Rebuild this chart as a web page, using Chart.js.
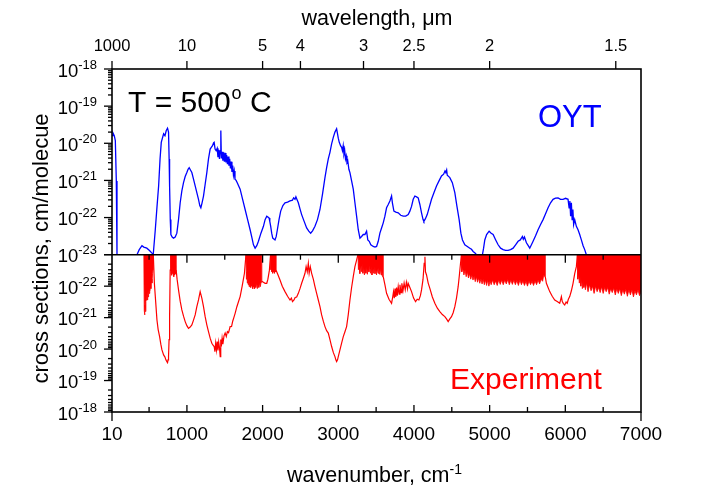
<!DOCTYPE html>
<html>
<head>
<meta charset="utf-8">
<script src="https://cdn.jsdelivr.net/npm/chart.js@4/dist/chart.umd.min.js"></script>
<style>
html,body{margin:0;padding:0;background:#fff;}
#wrap{width:706px;height:494px;position:relative;}
</style>
</head>
<body>
<div id="wrap"><canvas id="c" width="706" height="494"></canvas></div>
<script>
// ---------------- DATA ----------------
const wavenumberTicks = [10, 1000, 2000, 3000, 4000, 5000, 6000, 7000];
const wavenumberMinorTicks = [500, 1500, 2500, 3500, 4500, 5500, 6500];
const wavelengthTicks = [1000, 10, 5, 4, 3, 2.5, 2, 1.5];   // micrometres
const yDecades = [1e-23, 1e-22, 1e-21, 1e-20, 1e-19, 1e-18];

// OYT calculation (top panel) : [wavenumber cm-1, cross section cm/molecule]
const oytPoints = [
 [10,1.6e-20],[23,1.9e-20],[40,1.6e-20],[54,1.18e-20],[67,9.7e-22],[76,1e-23],[77,null],
 [340,1e-23],[370,1.37e-23],[406,1.75e-23],[430,1.6e-23],[470,1.5e-23],[505,1.3e-23],[538,1.1e-23],[555,1.02e-23],
 [582,4.7e-23],[605,2.0e-22],[626,7.1e-22],[645,3.8e-21],[661,1.06e-20],[692,1.8e-20],[710,1.6e-20],[727,2.2e-20],
 [744,2.55e-20],[757,2.0e-20],[765,3.8e-21],[771,7.1e-22],[780,8.8e-23],[788,3.5e-23],[805,3.0e-23],[823,2.8e-23],
 [845,3.0e-23],[867,3.8e-23],[889,8.8e-23],[911,2.5e-22],[933,5.2e-22],[955,8.7e-22],[977,1.27e-21],[999,1.63e-21],
 [1015,2.0e-21],[1030,2.2e-21],[1045,1.93e-21],[1065,1.63e-21],[1087,1.08e-21],[1109,7.1e-22],[1131,4.7e-22],
 [1153,3.1e-22],[1170,2.1e-22],[1184,1.83e-22],[1200,2.5e-22],[1219,3.8e-22],[1241,7.9e-22],[1263,1.63e-21],
 [1285,3.8e-21],[1307,7.0e-21],[1322,7.8e-21],[1338,8.6e-21],[1352,1.02e-20],[1360,1.06e-20],[1372,7.0e-21],
 [1386,6.3e-21],[1400,7.3e-21],[1410,4.2e-21],[1420,6.7e-21],[1430,3.8e-21],[1440,6.3e-21],[1448,2.2e-20],
 [1455,3.9e-21],[1465,5.9e-21],[1475,3.4e-21],[1485,5.7e-21],[1495,3.2e-21],[1505,5.5e-21],[1515,3.05e-21],
 [1525,4.8e-21],[1535,2.75e-21],[1545,4.4e-21],[1555,2.5e-21],[1565,3.8e-21],[1575,2.1e-21],[1585,3.2e-21],
 [1595,1.7e-21],[1605,2.5e-21],[1615,1.38e-21],[1625,1.8e-21],[1635,1.08e-21],[1650,1.0e-21],[1665,8.7e-22],
 [1703,5.8e-22],[1736,3.1e-22],[1769,1.65e-22],[1802,8.8e-23],[1835,4.7e-23],[1860,2.8e-23],[1879,1.85e-23],
 [1901,1.5e-23],[1923,1.75e-23],[1945,2.3e-23],[1978,3.8e-23],[2011,5.8e-23],[2033,8.8e-23],[2055,1.09e-22],
 [2070,1.04e-22],[2085,9.8e-23],[2095,7.9e-23],[2107,5.8e-23],[2120,3.8e-23],[2134,2.8e-23],[2164,2.5e-23],
 [2180,3.1e-23],[2195,4.7e-23],[2217,8.8e-23],[2239,1.49e-22],[2268,2.1e-22],[2296,2.5e-22],[2330,2.6e-22],
 [2362,2.8e-22],[2395,2.95e-22],[2410,3.4e-22],[2428,3.1e-22],[2440,3.6e-22],[2450,3.2e-22],[2472,2.5e-22],
 [2494,1.72e-22],[2516,1.2e-22],[2549,7.9e-23],[2582,5.25e-23],[2610,4.3e-23],[2635,3.8e-23],[2660,4.4e-23],
 [2692,5.8e-23],[2725,8.8e-23],[2758,1.65e-22],[2791,4.2e-22],[2824,1.19e-21],[2846,2.2e-21],[2868,3.8e-21],
 [2890,5.7e-21],[2912,9.6e-21],[2935,1.46e-20],[2956,2.0e-20],[2978,2.45e-20],[2990,1.8e-20],[3000,1.37e-20],
 [3013,1.06e-20],[3030,8.6e-21],[3044,7.8e-21],[3055,6.3e-21],[3065,8.6e-21],[3075,5.1e-21],[3085,6.3e-21],
 [3095,3.8e-21],[3105,4.6e-21],[3115,3.05e-21],[3125,3.4e-21],[3140,2.0e-21],[3154,1.63e-21],[3176,9.7e-22],
 [3198,5.8e-22],[3220,2.5e-22],[3242,1.09e-22],[3264,4.7e-23],[3286,2.8e-23],[3308,3.1e-23],[3330,3.5e-23],
 [3352,3.5e-23],[3374,4.3e-23],[3390,2.5e-23],[3409,2.3e-23],[3430,1.85e-23],[3462,1.67e-23],[3485,1.6e-23],
 [3506,1.67e-23],[3528,2.3e-23],[3550,3.8e-23],[3572,5.25e-23],[3594,7.2e-23],[3616,1.09e-22],[3638,1.83e-22],
 [3660,2.25e-22],[3682,2.8e-22],[3704,3.8e-22],[3715,2.5e-22],[3735,1.49e-22],[3760,1.4e-22],[3792,1.34e-22],
 [3825,1.15e-22],[3858,1.09e-22],[3891,1.09e-22],[3924,1.2e-22],[3946,1.49e-22],[3968,2.0e-22],[3990,3.1e-22],
 [4012,3.8e-22],[4034,3.6e-22],[4056,3.4e-22],[4078,2.25e-22],[4100,1.34e-22],[4120,8.8e-23],[4131,7.9e-23],
 [4150,9.2e-23],[4175,1.2e-22],[4200,1.83e-22],[4232,3.1e-22],[4265,4.7e-22],[4298,7.1e-22],[4331,9.7e-22],
 [4364,1.32e-21],[4392,1.47e-21],[4410,1.8e-21],[4421,1.63e-21],[4432,1.9e-21],[4440,1.38e-21],[4474,1.19e-21],
 [4507,8.7e-22],[4540,4.7e-22],[4568,2.0e-22],[4597,8.8e-23],[4620,3.8e-23],[4641,2.5e-23],[4672,1.85e-23],
 [4705,1.67e-23],[4738,1.5e-23],[4760,1.4e-23],[4782,1.22e-23],[4810,1.1e-23],[4826,1e-23],[4827,null],
 [4905,1e-23],[4920,1.5e-23],[4936,2.5e-23],[4960,3.5e-23],[4993,4.3e-23],[5020,3.8e-23],[5046,3.5e-23],
 [5080,2.5e-23],[5112,1.85e-23],[5145,1.5e-23],[5178,1.37e-23],[5211,1.3e-23],[5244,1.3e-23],[5277,1.37e-23],
 [5310,1.5e-23],[5343,1.85e-23],[5376,2.3e-23],[5405,2.5e-23],[5433,3.1e-23],[5445,2.6e-23],[5460,3.0e-23],
 [5486,2.1e-23],[5510,1.75e-23],[5530,1.5e-23],[5552,1.85e-23],[5574,2.3e-23],[5607,3.25e-23],[5640,4.7e-23],
 [5673,6.5e-23],[5706,8.8e-23],[5739,1.26e-22],[5772,1.83e-22],[5805,2.5e-22],[5838,3.1e-22],[5870,3.35e-22],
 [5904,3.4e-22],[5937,3.1e-22],[5970,3.1e-22],[6003,3.3e-22],[6036,3.1e-22],[6050,1.83e-22],[6060,2.8e-22],
 [6070,1.09e-22],[6080,2.5e-22],[6090,8.8e-23],[6100,1.65e-22],[6110,6.5e-23],[6124,8.8e-23],[6146,5.8e-23],
 [6168,4.7e-23],[6190,3.5e-23],[6212,2.5e-23],[6235,1.75e-23],[6256,1.37e-23],[6278,1e-23]
];

// Experiment (bottom panel, inverted axis): main trace
const expPoints = [
 [556,1e-23],[570,8.1e-23],[587,3.1e-22],[604,1.19e-21],[620,2.4e-21],[639,4.0e-21],[655,7.0e-21],[670,1.06e-20],
 [692,1.53e-20],[710,1.8e-20],[722,2.2e-20],[735,2.5e-20],[744,2.7e-20],[750,2.2e-20],[757,1.73e-20],[764,5.0e-21],
 [771,9.3e-22],[779,3.1e-23],[786,1e-23],[787,null],
 [858,3.1e-23],[870,6.0e-23],[889,1.32e-22],[911,3.0e-22],[933,5.7e-22],[955,9.0e-22],[977,1.34e-21],[999,1.8e-21],
 [1021,2.2e-21],[1043,2.0e-21],[1065,1.71e-21],[1087,1.2e-21],[1109,8.2e-22],[1131,4.5e-22],[1153,2.75e-22],
 [1175,1.49e-22],[1197,2.4e-22],[1219,4.5e-22],[1241,9.3e-22],[1263,1.7e-21],[1285,2.8e-21],[1307,4.5e-21],
 [1329,6.5e-21],[1345,7.5e-21],[1360,8.3e-21],[1370,1.2e-20],[1380,6.5e-21],[1390,1.06e-20],[1400,5.8e-21],
 [1410,1.1e-20],[1420,6.0e-21],[1430,9.0e-21],[1440,1.73e-20],[1447,5.0e-21],[1455,8.3e-21],[1465,4.5e-21],
 [1475,7.0e-21],[1490,3.8e-21],[1505,3.1e-21],[1520,4.0e-21],[1535,2.8e-21],[1550,3.0e-21],[1571,1.93e-21],
 [1590,1.9e-21],[1605,1.3e-21],[1620,1.0e-21],[1637,7.3e-22],[1660,4.5e-22],[1680,3.2e-22],[1703,2.15e-22],
 [1730,1.0e-22],[1760,3.9e-23],[1780,1e-23],[1781,null],
 [1989,7.0e-23],[2010,7.5e-23],[2033,8.1e-23],[2055,8.1e-23],[2070,6.0e-23],[2090,3.1e-23],[2105,1e-23],[2106,null],
 [2178,3.1e-23],[2200,4.2e-23],[2230,6.4e-23],[2260,1.0e-22],[2296,1.49e-22],[2330,2.1e-22],[2362,2.75e-22],
 [2380,2.4e-22],[2395,3.1e-22],[2415,2.75e-22],[2430,2.3e-22],[2450,2.2e-22],[2472,1.69e-22],[2494,1.2e-22],
 [2516,8.1e-23],[2540,5.5e-23],[2560,3.9e-23],[2575,2.4e-23],[2590,3.5e-23],[2604,1.9e-23],[2615,3.9e-23],
 [2630,2.4e-23],[2648,3.9e-23],[2670,6.0e-23],[2692,1.04e-22],[2714,1.7e-22],[2736,2.75e-22],[2758,4.5e-22],
 [2780,8.2e-22],[2802,1.3e-21],[2824,1.93e-21],[2846,2.6e-21],[2868,3.1e-21],[2890,5.0e-21],[2912,8.3e-21],
 [2935,1.3e-20],[2956,1.73e-20],[2968,2.2e-20],[2978,2.5e-20],[2990,2.2e-20],[3000,1.73e-20],[3022,1.06e-20],
 [3044,6.5e-21],[3066,4.0e-21],[3088,2.8e-21],[3110,1.93e-21],[3132,8.0e-22],[3154,2.75e-22],[3176,1.1e-22],
 [3198,5.0e-23],[3220,2.4e-23],[3242,1.48e-23],[3260,1e-23],[3261,null],
 [3594,5.0e-23],[3616,9.0e-23],[3638,1.69e-22],[3670,2.6e-22],[3704,3.5e-22],[3720,2.15e-22],[3730,1.5e-22],
 [3740,2.4e-22],[3750,1.2e-22],[3760,2.2e-22],[3770,1.1e-22],[3780,2.0e-22],[3792,1.04e-22],[3805,1.8e-22],
 [3815,9.0e-23],[3830,1.6e-22],[3840,8.1e-23],[3855,1.4e-22],[3870,8.0e-23],[3885,1.3e-22],[3900,7.5e-23],
 [3915,1.2e-22],[3924,8.1e-23],[3946,1.1e-22],[3968,1.49e-22],[3995,2.4e-22],[4021,3.1e-22],[4043,2.6e-22],
 [4065,2.75e-22],[4085,2.0e-22],[4100,1.32e-22],[4120,6.0e-23],[4135,1.9e-23],[4145,1.16e-23],[4152,3.5e-23],
 [4166,4.4e-23],[4188,8.0e-23],[4210,1.17e-22],[4243,2.2e-22],[4276,3.5e-22],[4309,5.0e-22],[4342,6.4e-22],
 [4375,8.0e-22],[4408,9.3e-22],[4430,1.1e-21],[4452,1.34e-21],[4474,1.1e-21],[4496,9.3e-22],[4518,7.0e-22],
 [4540,4.5e-22],[4562,2.4e-22],[4584,1.04e-22],[4600,4.5e-23],[4615,1.9e-23],[4628,1e-23],[4629,null],
 [5735,5.0e-23],[5750,8.1e-23],[5772,1.1e-22],[5794,1.49e-22],[5827,2.1e-22],[5860,2.75e-22],[5893,3.1e-22],
 [5926,3.5e-22],[5937,2.8e-22],[5948,2.15e-22],[5960,3.1e-22],[5975,3.6e-22],[5992,3.95e-22],[6010,3.2e-22],
 [6025,3.5e-22],[6040,2.6e-22],[6058,2.15e-22],[6080,1.4e-22],[6102,8.1e-23],[6124,4.0e-23],[6146,2.4e-23],[6160,1e-23]
];

// Experiment: dense noisy regions, lower envelope (filled up to the 1e-23 line)
const expNoiseBands = [
 [430,1e-23],[436,6e-22],[440,8.2e-22],[446,4e-22],[452,6.4e-22],[458,3e-22],[464,2.75e-22],[470,1.9e-22],[476,2.75e-22],
 [482,1.5e-22],[488,2.2e-22],[494,1.3e-22],[500,1.7e-22],[506,1e-22],[512,1.4e-22],[518,8e-23],[524,1.2e-22],
 [530,6e-23],[538,8e-23],[546,4e-23],[552,3e-23],[556,1e-23],[557,null],
 [786,1e-23],[790,4e-23],[796,2.4e-23],[802,4.5e-23],[808,2e-23],[814,4e-23],[820,2.6e-23],[826,5e-23],[832,2.4e-23],
 [838,4.4e-23],[844,2.2e-23],[850,4e-23],[858,3.1e-23],[860,1e-23],[861,null],
 [1780,1e-23],[1786,6e-23],[1792,3.5e-23],[1798,8e-23],[1804,4e-23],[1810,9e-23],[1816,5e-23],[1822,1.04e-22],
 [1828,5.5e-23],[1834,9e-23],[1840,6e-23],[1846,1.1e-22],[1852,6.4e-23],[1858,1e-22],[1864,7e-23],[1870,1.2e-22],
 [1876,7e-23],[1882,1.04e-22],[1888,7.5e-23],[1894,1.2e-22],[1900,8e-23],[1910,1.1e-22],[1920,8e-23],[1930,1.2e-22],
 [1940,8.5e-23],[1950,1.1e-22],[1960,8e-23],[1970,1.04e-22],[1980,7.5e-23],[1989,7e-23],[1991,1e-23],[1992,null],
 [2105,1e-23],[2110,3e-23],[2116,1.6e-23],[2122,3.5e-23],[2128,1.8e-23],[2134,3.9e-23],[2140,2e-23],[2146,3.5e-23],
 [2152,2.2e-23],[2158,3.9e-23],[2164,2.4e-23],[2170,3.5e-23],[2178,3.1e-23],[2180,1e-23],[2181,null],
 [3260,1e-23],[3266,3e-23],[3275,2e-23],[3285,4e-23],[3295,2.2e-23],[3305,3.5e-23],[3315,2e-23],[3325,3.9e-23],
 [3335,2.4e-23],[3345,4.4e-23],[3355,2.6e-23],[3365,3.9e-23],[3375,2.4e-23],[3385,4.2e-23],[3395,2.6e-23],
 [3405,3.5e-23],[3415,2.2e-23],[3425,3.9e-23],[3435,2.4e-23],[3445,4.4e-23],[3455,2.8e-23],[3465,3.9e-23],
 [3475,2.4e-23],[3485,4e-23],[3495,2.6e-23],[3505,4.4e-23],[3515,2.8e-23],[3525,3.9e-23],[3535,2.6e-23],
 [3545,4.2e-23],[3555,2.8e-23],[3565,4.4e-23],[3575,3.1e-23],[3585,5e-23],[3594,5e-23],[3596,1e-23],[3597,null],
 [4626,1e-23],[4632,3.5e-23],[4645,2.6e-23],[4660,4.4e-23],[4675,3.1e-23],[4690,5e-23],[4705,3.5e-23],[4720,5.5e-23],
 [4735,4e-23],[4750,6e-23],[4765,4.4e-23],[4780,6.4e-23],[4795,4.8e-23],[4810,7.2e-23],[4825,5e-23],[4840,7.5e-23],
 [4855,5.5e-23],[4870,8.1e-23],[4885,5.8e-23],[4900,8.5e-23],[4915,6e-23],[4930,9e-23],[4945,6.4e-23],[4960,9.5e-23],
 [4975,6.4e-23],[4990,1e-22],[5005,6.8e-23],[5020,9e-23],[5040,6.4e-23],[5060,9e-23],[5080,6.8e-23],[5100,9.5e-23],
 [5120,6.4e-23],[5140,8.8e-23],[5160,6.4e-23],[5180,9e-23],[5200,6.4e-23],[5220,8.5e-23],[5240,6.1e-23],[5260,9e-23],
 [5280,6.4e-23],[5300,8.8e-23],[5320,6.4e-23],[5340,9e-23],[5360,6.6e-23],[5380,9.5e-23],[5400,6.4e-23],[5420,9e-23],
 [5440,6.8e-23],[5460,9.5e-23],[5480,7e-23],[5500,1e-22],[5520,6.8e-23],[5540,9e-23],[5560,7e-23],[5580,9.5e-23],
 [5600,6.8e-23],[5620,9e-23],[5640,6.4e-23],[5660,8.5e-23],[5680,6e-23],[5700,7e-23],[5715,4.4e-23],[5728,5e-23],
 [5735,5e-23],[5737,1e-23],[5738,null],
 [6158,1e-23],[6165,6e-23],[6175,4e-23],[6185,8e-23],[6195,5e-23],[6205,1e-22],[6215,6e-23],[6225,1.2e-22],
 [6235,7e-23],[6245,1.1e-22],[6255,8e-23],[6265,1.3e-22],[6280,8e-23],[6300,1.5e-22],[6320,9e-23],[6340,1.4e-22],
 [6360,1e-22],[6380,1.7e-22],[6400,1e-22],[6420,1.5e-22],[6440,1.1e-22],[6460,1.6e-22],[6480,1.05e-22],[6500,1.7e-22],
 [6520,1.1e-22],[6540,1.5e-22],[6560,1.1e-22],[6580,1.8e-22],[6600,1.2e-22],[6620,1.6e-22],[6640,1.15e-22],
 [6660,1.9e-22],[6680,1.2e-22],[6700,1.7e-22],[6720,1.2e-22],[6740,2e-22],[6760,1.3e-22],[6780,1.8e-22],
 [6800,1.25e-22],[6820,2.1e-22],[6840,1.3e-22],[6860,1.9e-22],[6880,1.3e-22],[6900,2.2e-22],[6920,1.4e-22],
 [6940,1.9e-22],[6960,1.3e-22],[6980,2e-22],[7000,1.5e-22]
];

// ---------------- CHART ----------------
const FONT = "'Liberation Sans', Arial, Helvetica, sans-serif";
const BLUE = '#0000ff', RED = '#ff0000';
const toXY = arr => arr.map(p => ({x: p[0], y: p[1]}));

function drawPow(ctx, e, xRight, y) {
  const es = String(e);
  ctx.font = `18.5px ${FONT}`; const w10 = ctx.measureText('10').width;
  ctx.font = `13px ${FONT}`; const we = ctx.measureText(es).width;
  const x0 = xRight - we - w10;
  ctx.textAlign = 'left'; ctx.textBaseline = 'alphabetic';
  ctx.font = `18.5px ${FONT}`; ctx.fillText('10', x0, y + 7.5);
  ctx.font = `13px ${FONT}`; ctx.fillText(es, x0 + w10, y - 0.5);
}

const framePlugin = {
  id: 'frame',
  afterDatasetsDraw(chart) {
    const ctx = chart.ctx, a = chart.chartArea, sc = chart.scales;
    const xs = sc.x, yT = sc.yTop, yB = sc.yBot;
    const mid = yT.getPixelForValue(yDecades[0]);
    const seg = (x1, y1, x2, y2) => { ctx.beginPath(); ctx.moveTo(x1, y1); ctx.lineTo(x2, y2); ctx.stroke(); };
    ctx.save();
    ctx.strokeStyle = '#000';
    ctx.lineWidth = 1.6;
    ctx.strokeRect(a.left, a.top, a.right - a.left, a.bottom - a.top);
    seg(a.left, mid, a.right, mid);
    ctx.lineWidth = 1.3;
    // wavenumber ticks: bottom (inward) and on the middle line (downward)
    wavenumberTicks.forEach(v => {
      const p = xs.getPixelForValue(v);
      if (v === xs.min || v === xs.max) { seg(p, a.bottom, p, a.bottom + 9); }
      else { seg(p, a.bottom, p, a.bottom - 7); seg(p, mid, p, mid + 8); }
    });
    wavenumberMinorTicks.forEach(v => {
      const p = xs.getPixelForValue(v);
      seg(p, a.bottom, p, a.bottom - 5); seg(p, mid, p, mid + 5);
    });
    // wavelength ticks on top (outward)
    sc.x2.ticks.forEach(t => { const p = sc.x2.getPixelForValue(t.value); seg(p, a.top, p, a.top - 8); });
    // y ticks (outward) for both panels
    [yT, yB].forEach(s => {
      yDecades.forEach((d, i) => {
        const p = s.getPixelForValue(d);
        seg(a.left - 8, p, a.left, p);
        if (i < yDecades.length - 1) {
          for (let m = 2; m <= 9; m++) { const q = s.getPixelForValue(d * m); seg(a.left - 4, q, a.left, q); }
        }
      });
    });
    // y labels with superscripts
    ctx.fillStyle = '#000';
    yDecades.forEach(d => drawPow(ctx, Math.round(Math.log10(d)), a.left - 15, yT.getPixelForValue(d)));
    yDecades.slice(1).forEach(d => drawPow(ctx, Math.round(Math.log10(d)), a.left - 15, yB.getPixelForValue(d)));

    // axis titles
    ctx.textBaseline = 'alphabetic';
    ctx.textAlign = 'center';
    ctx.font = `21.5px ${FONT}`;
    ctx.fillText('wavelength, \u03bcm', (a.left + a.right) / 2 + 0.5, 25);
    ctx.font = `21.5px ${FONT}`;
    const t1 = 'wavenumber, cm'; const w1 = ctx.measureText(t1).width;
    ctx.font = `14px ${FONT}`; const w2 = ctx.measureText('-1').width;
    const sx = (a.left + a.right) / 2 - 2 - (w1 + w2) / 2;
    ctx.textAlign = 'left';
    ctx.font = `21.5px ${FONT}`; ctx.fillText(t1, sx, 481.5);
    ctx.font = `14px ${FONT}`; ctx.fillText('-1', sx + w1, 473.5);
    ctx.save();
    ctx.translate(48, (a.top + a.bottom) / 2 + 8);
    ctx.rotate(-Math.PI / 2);
    ctx.textAlign = 'center';
    ctx.font = `22px ${FONT}`;
    ctx.fillText('cross sections, cm/molecue', 0, 0);
    ctx.restore();

    // annotations
    ctx.textAlign = 'left';
    ctx.font = `30px ${FONT}`;
    const ta = 'T = 500'; const wa = ctx.measureText(ta).width;
    ctx.fillText(ta, 128, 112);
    ctx.font = `18px ${FONT}`; const wo = ctx.measureText('o').width;
    ctx.fillText('o', 128 + wa + 1, 99);
    ctx.font = `30px ${FONT}`;
    ctx.fillText(' C', 128 + wa + wo + 1, 112);
    ctx.fillStyle = BLUE;
    ctx.font = `31px ${FONT}`;
    ctx.fillText('OYT', 538, 127);
    ctx.fillStyle = RED;
    ctx.font = `30px ${FONT}`;
    ctx.fillText('Experiment', 450, 389);
    ctx.restore();
  }
};

Chart.defaults.font.family = FONT;
Chart.defaults.color = '#000';

new Chart(document.getElementById('c'), {
  type: 'line',
  data: {
    datasets: [
      { label: 'Experiment noise', data: toXY(expNoiseBands), xAxisID: 'x', yAxisID: 'yBot',
        borderColor: RED, borderWidth: 0.8, backgroundColor: RED, fill: {value: 1e-23},
        pointRadius: 0, spanGaps: false, tension: 0 },
      { label: 'Experiment', data: toXY(expPoints), xAxisID: 'x', yAxisID: 'yBot',
        borderColor: RED, borderWidth: 1.2, fill: false, pointRadius: 0, spanGaps: false, tension: 0 },
      { label: 'OYT', data: toXY(oytPoints), xAxisID: 'x', yAxisID: 'yTop',
        borderColor: BLUE, borderWidth: 1.3, fill: false, pointRadius: 0, spanGaps: false, tension: 0 }
    ]
  },
  options: {
    responsive: false,
    animation: false,
    devicePixelRatio: 1,
    layout: { padding: { left: 0, right: 65, top: 0, bottom: 0 } },
    plugins: { legend: { display: false }, tooltip: { enabled: false } },
    scales: {
      x: {
        type: 'linear', position: 'bottom', min: 10, max: 7000,
        afterBuildTicks: s => { s.ticks = wavenumberTicks.map(v => ({value: v})); },
        afterFit: s => { s.height = 82; },
        grid: { display: false, drawTicks: false }, border: { display: false },
        ticks: { autoSkip: false, maxRotation: 0, padding: 11.5, font: { size: 19 }, color: '#000',
                 callback: v => String(v) }
      },
      x2: {
        type: 'linear', position: 'top', min: 10, max: 7000,
        afterBuildTicks: s => { s.ticks = wavelengthTicks.map(l => ({value: 10000 / l})); },
        afterFit: s => { s.height = 69; },
        grid: { display: false, drawTicks: false }, border: { display: false },
        ticks: { autoSkip: false, maxRotation: 0, padding: 12.5, font: { size: 16.5 }, color: '#000',
                 callback: (v, i) => String(wavelengthTicks[i]) }
      },
      yBot: {
        type: 'logarithmic', position: 'left', stack: 'panels', stackWeight: 157.3, reverse: true,
        min: 1e-23, max: 1e-18,
        afterFit: s => { s.width = 112; },
        grid: { display: false, drawTicks: false }, border: { display: false },
        ticks: { display: false }
      },
      yTop: {
        type: 'logarithmic', position: 'left', stack: 'panels', stackWeight: 185.7,
        min: 1e-23, max: 1e-18,
        afterFit: s => { s.width = 112; },
        grid: { display: false, drawTicks: false }, border: { display: false },
        ticks: { display: false }
      }
    }
  },
  plugins: [framePlugin]
});
</script>
</body>
</html>
